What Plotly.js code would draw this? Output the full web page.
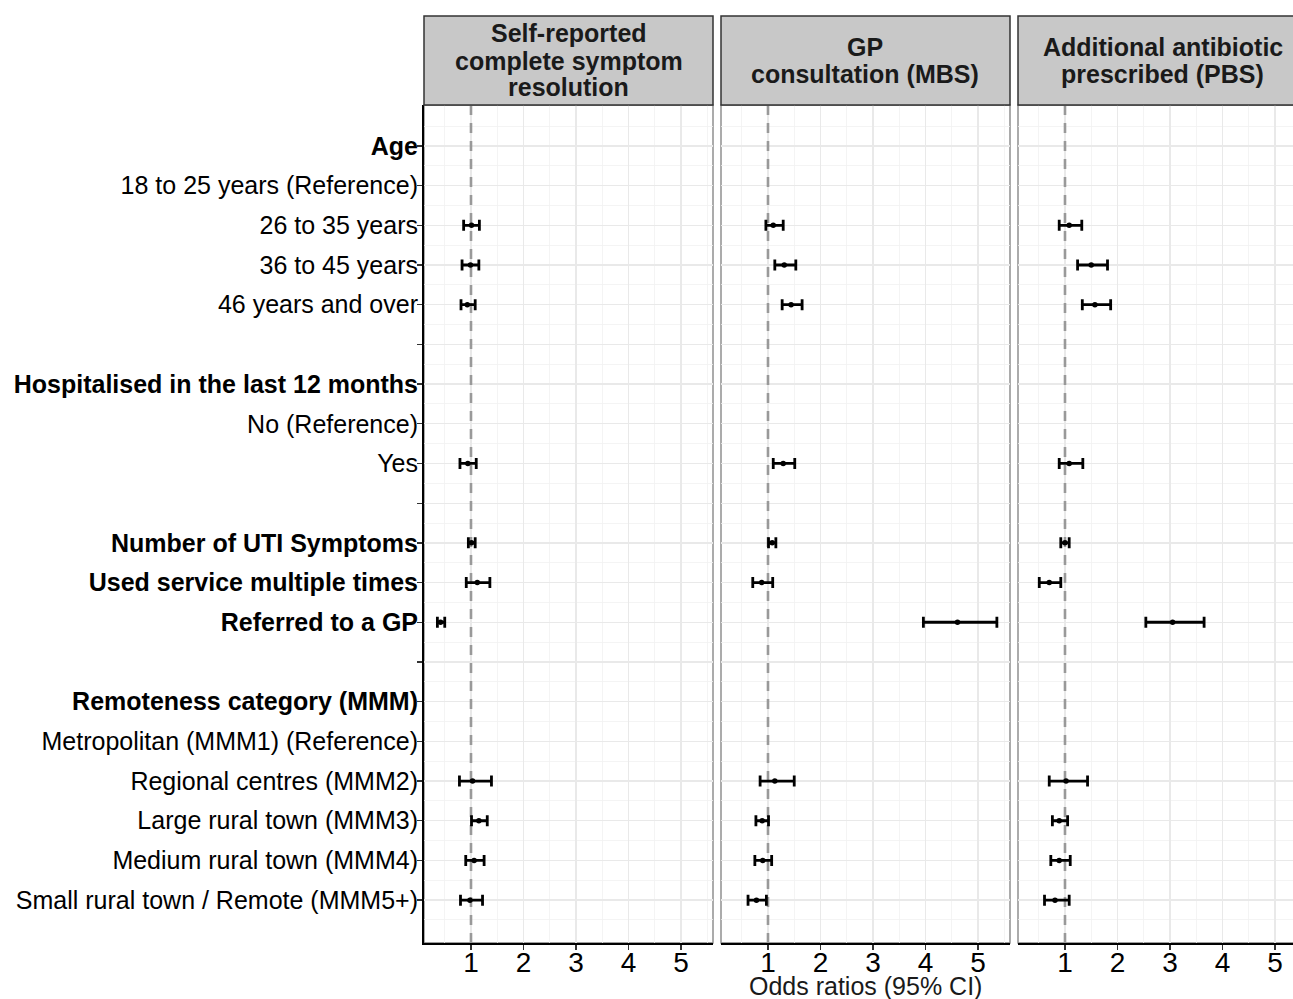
<!DOCTYPE html>
<html>
<head>
<meta charset="utf-8">
<script src="https://cdn.plot.ly/plotly-3.0.1.min.js"></script>
<style>
  html, body { margin: 0; padding: 0; overflow: hidden; background: #fff; }
  #chart { width: 1310px; height: 999px; }
</style>
</head>
<body>
<div id="chart"></div>
<script>
// Row labels, top to bottom (bold rows are variable headings / binary predictors)
const rowLabels = [
  "Age",
  "18 to 25 years (Reference)",
  "26 to 35 years",
  "36 to 45 years",
  "46 years and over",
  "",
  "Hospitalised in the last 12 months",
  "No (Reference)",
  "Yes",
  "",
  "Number of UTI Symptoms",
  "Used service multiple times",
  "Referred to a GP",
  "",
  "Remoteness category (MMM)",
  "Metropolitan (MMM1) (Reference)",
  "Regional centres (MMM2)",
  "Large rural town (MMM3)",
  "Medium rural town (MMM4)",
  "Small rural town / Remote (MMM5+)"
];
const boldRows = [
  "Age",
  "Hospitalised in the last 12 months",
  "Number of UTI Symptoms",
  "Used service multiple times",
  "Referred to a GP",
  "Remoteness category (MMM)"
];

// Outcome panels
const outcomeTitles = [
  ["Self-reported", "complete symptom", "resolution"],
  ["GP", "consultation (MBS)"],
  ["Additional antibiotic", "prescribed (PBS)"]
];

// Odds ratios and 95% CI, one value per row (null = no estimate)
const n = null;
const resolutionOR    = [n, n, 1.01, 0.99, 0.93, n, n, n, 0.94, n, 1.01, 1.12, 0.42, n, n, n, 1.03, 1.15, 1.06, 0.98];
const resolutionLower = [n, n, 0.86, 0.83, 0.81, n, n, n, 0.79, n, 0.95, 0.91, 0.36, n, n, n, 0.78, 1.01, 0.90, 0.80];
const resolutionUpper = [n, n, 1.16, 1.15, 1.08, n, n, n, 1.10, n, 1.08, 1.36, 0.50, n, n, n, 1.39, 1.31, 1.25, 1.22];

const gpOR    = [n, n, 1.10, 1.31, 1.44, n, n, n, 1.29, n, 1.08, 0.88, 4.61, n, n, n, 1.13, 0.89, 0.90, 0.78];
const gpLower = [n, n, 0.96, 1.13, 1.27, n, n, n, 1.10, n, 1.01, 0.71, 3.96, n, n, n, 0.85, 0.77, 0.75, 0.62];
const gpUpper = [n, n, 1.29, 1.53, 1.65, n, n, n, 1.51, n, 1.15, 1.09, 5.36, n, n, n, 1.50, 1.01, 1.07, 0.97];

const abxOR    = [n, n, 1.08, 1.50, 1.57, n, n, n, 1.08, n, 1.00, 0.70, 3.05, n, n, n, 1.02, 0.89, 0.89, 0.81];
const abxLower = [n, n, 0.89, 1.24, 1.33, n, n, n, 0.89, n, 0.92, 0.51, 2.54, n, n, n, 0.70, 0.76, 0.73, 0.61];
const abxUpper = [n, n, 1.32, 1.81, 1.87, n, n, n, 1.34, n, 1.08, 0.92, 3.65, n, n, n, 1.43, 1.05, 1.10, 1.08];

const xTicks = [1, 2, 3, 4, 5];
const xMinorTicks = [0.5, 1.5, 2.5, 3.5, 4.5, 5.5];
const axisTitle = "Odds ratios (95% CI)";
const nullValue = 1;

// ---- page geometry (pixels) ----
const W = 1310, H = 999;
const FONT = "Liberation Sans, Arial, Helvetica, sans-serif";
const panelX = [[424, 713], [721, 1010], [1018, 1307]];
const panelTop = 105, panelBottom = 943;
const stripTop = 16;
const yRange = [20.08, -1.03];
const px = v => v / W;
const py = v => 1 - v / H;

const series = [
  [resolutionOR, resolutionLower, resolutionUpper],
  [gpOR, gpLower, gpUpper],
  [abxOR, abxLower, abxUpper]
];

const rowIdx = rowLabels.map((_, i) => i);
const tickText = rowLabels.map(l => boldRows.includes(l) ? "<b>" + l + "</b>" : l);
const halfRows = [-0.5].concat(rowIdx.map(i => i + 0.5));

const traces = [];
series.forEach(([or, lo, hi], k) => {
  const xr = k === 0 ? "x" : "x" + (k + 1);
  const yr = k === 0 ? "y" : "y" + (k + 1);
  // dashed no-effect line at OR = 1
  traces.push({
    type: "scatter",
    mode: "lines",
    x: [nullValue, nullValue],
    y: yRange,
    xaxis: xr, yaxis: yr,
    line: { color: "#999999", width: 2.6, dash: "10px,8px" },
    hoverinfo: "skip",
    showlegend: false
  });
  traces.push({
    type: "scatter",
    mode: "markers",
    x: or,
    y: rowIdx,
    xaxis: xr, yaxis: yr,
    marker: { color: "#000", size: 5.5 },
    error_x: {
      type: "data",
      symmetric: false,
      array: or.map((v, i) => v === null ? null : hi[i] - v),
      arrayminus: or.map((v, i) => v === null ? null : v - lo[i]),
      color: "#000",
      thickness: 2.8,
      width: 5.5
    },
    hoverinfo: "x+y",
    showlegend: false
  });
});

const layout = {
  width: W,
  height: H,
  margin: { l: 0, r: 0, t: 0, b: 0 },
  paper_bgcolor: "#fff",
  plot_bgcolor: "rgba(0,0,0,0)",
  font: { family: FONT, color: "#000" },
  showlegend: false,
  shapes: [],
  annotations: []
};

panelX.forEach(([x0, x1], k) => {
  const xa = k === 0 ? "xaxis" : "xaxis" + (k + 1);
  const ya = k === 0 ? "yaxis" : "yaxis" + (k + 1);
  const xr = k === 0 ? "x" : "x" + (k + 1);
  const yr = k === 0 ? "y" : "y" + (k + 1);

  layout[xa] = {
    domain: [px(x0), px(x1)],
    anchor: yr,
    range: [0.105, 5.61],
    tickmode: "array",
    tickvals: xTicks,
    ticks: "outside",
    ticklen: 5,
    tickwidth: 1.3,
    tickcolor: "#333",
    tickfont: { size: 28, color: "#000", family: FONT },
    ticklabelstandoff: -12,
    showgrid: true,
    gridcolor: "#e9e9e9",
    gridwidth: 1.3,
    minor: { tickmode: "array", tickvals: xMinorTicks, showgrid: true, gridcolor: "#f1f1f1", gridwidth: 0.8, ticks: "" },
    zeroline: false,
    showline: true,
    linecolor: "#000",
    linewidth: 2,
    fixedrange: true
  };

  layout[ya] = {
    domain: [py(panelBottom), py(panelTop)],
    anchor: xr,
    range: yRange,
    tickmode: "array",
    tickvals: rowIdx,
    ticktext: tickText,
    showticklabels: k === 0,
    ticks: k === 0 ? "outside" : "",
    ticklen: 5,
    tickwidth: 1.3,
    tickcolor: "#333",
    tickfont: { size: 25, color: "#000", family: FONT },
    ticklabelstandoff: -6,
    showgrid: true,
    gridcolor: "#e9e9e9",
    gridwidth: 1.3,
    minor: { tickmode: "array", tickvals: halfRows, showgrid: true, gridcolor: "#f1f1f1", gridwidth: 0.8, ticks: "" },
    zeroline: false,
    showline: k === 0,
    linecolor: "#000",
    linewidth: 2,
    fixedrange: true
  };

  // panel border
  layout.shapes.push({
    type: "rect", xref: "paper", yref: "paper", layer: "below",
    x0: px(x0), x1: px(x1), y0: py(panelBottom), y1: py(panelTop),
    line: { color: "#7f7f7f", width: 1.3 }, fillcolor: "rgba(0,0,0,0)"
  });
  // strip header
  layout.shapes.push({
    type: "rect", xref: "paper", yref: "paper", layer: "above",
    x0: px(x0), x1: px(x1), y0: py(panelTop), y1: py(stripTop),
    line: { color: "#333", width: 1.5 }, fillcolor: "#c8c8c8"
  });

  // strip title, one annotation per line
  const lines = outcomeTitles[k];
  const lineGap = 27;
  const mid = (stripTop + panelTop) / 2;
  lines.forEach((t, j) => {
    const yc = mid + (j - (lines.length - 1) / 2) * lineGap;
    layout.annotations.push({
      xref: "paper", yref: "paper",
      x: px((x0 + x1) / 2), y: py(yc),
      xanchor: "center", yanchor: "middle",
      text: "<b>" + t + "</b>",
      showarrow: false,
      font: { size: 25, color: "#1a1a1a", family: FONT }
    });
  });
});

// shared x-axis title, centred under the middle panel
layout.annotations.push({
  xref: "paper", yref: "paper",
  x: px((panelX[1][0] + panelX[1][1]) / 2), y: py(986),
  xanchor: "center", yanchor: "middle",
  text: axisTitle,
  showarrow: false,
  font: { size: 25, color: "#1a1a1a", family: FONT }
});

Plotly.newPlot("chart", traces, layout, { displayModeBar: false, staticPlot: true });
</script>
</body>
</html>
